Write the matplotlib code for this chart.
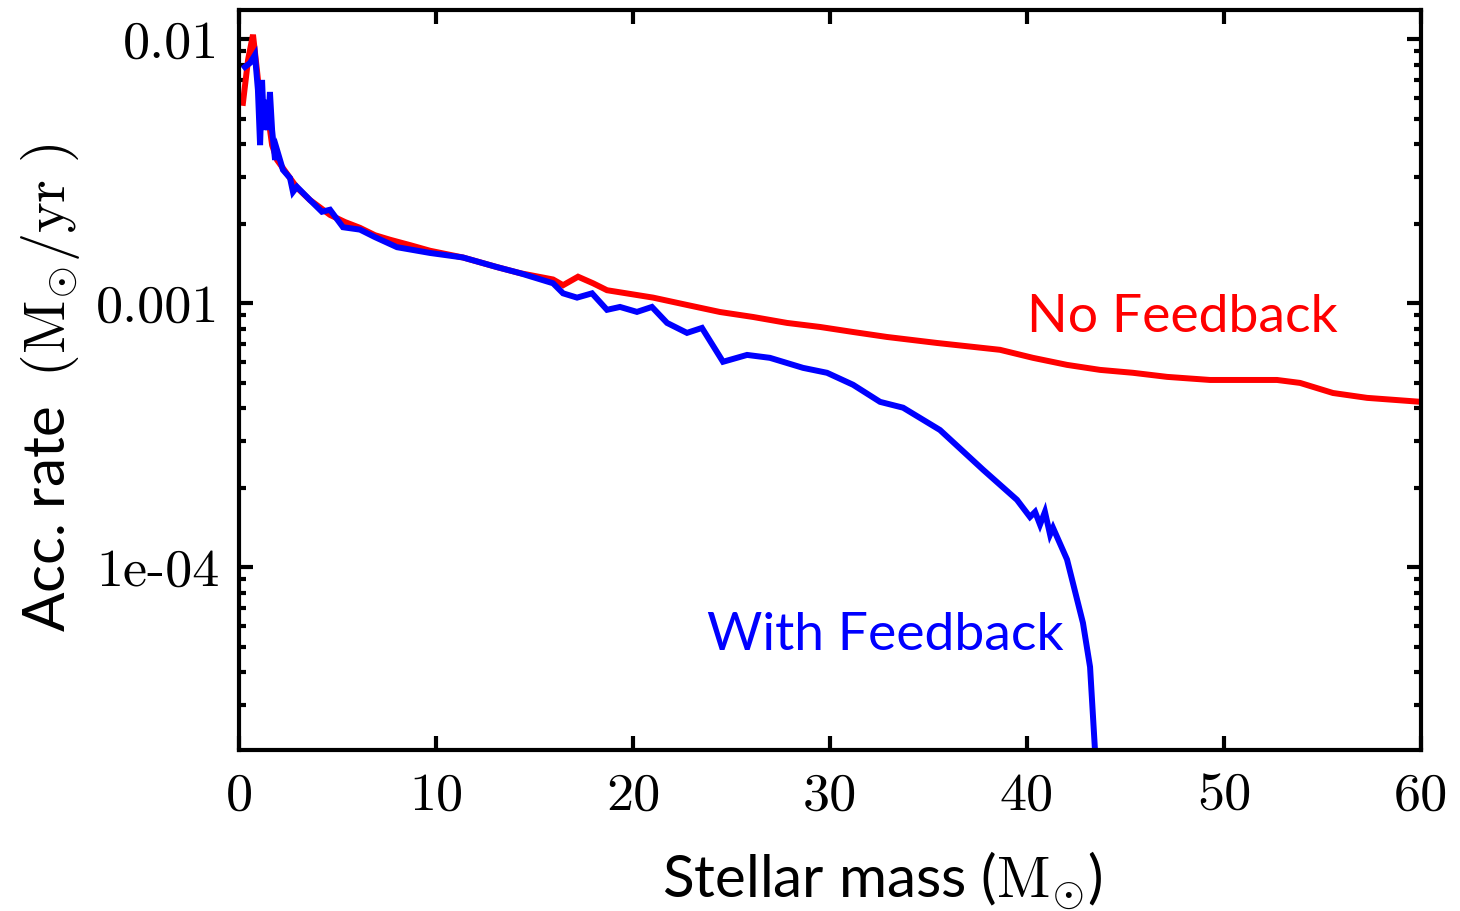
import numpy as np
import matplotlib.pyplot as plt
from matplotlib.ticker import FixedLocator, FixedFormatter, LogLocator, NullFormatter, NullLocator

plt.rcParams['mathtext.fontset'] = 'cm'

# No Feedback (red)
mass_nf = [0.20, 0.46, 0.71, 0.91, 1.07, 1.22, 1.47, 1.68, 1.93, 2.59, 2.94, 3.60, 3.96,
           4.62, 5.38, 6.14, 6.90, 7.66, 8.68, 9.70, 11.37, 13.10, 14.26, 15.94, 16.45,
           17.21, 17.97, 18.68, 21.02, 22.74, 24.42, 26.09, 27.82, 29.49, 31.17, 32.89,
           35.43, 38.63, 40.30, 42.03, 43.71, 45.38, 47.11, 49.29, 52.69, 53.86, 55.53,
           57.26, 60.0]
rate_nf = [0.00574, 0.00835, 0.0104, 0.00765, 0.00589, 0.00494, 0.00516, 0.00397, 0.00349,
           0.00298, 0.00274, 0.00246, 0.00235, 0.00216, 0.00203, 0.00193, 0.00181, 0.00174,
           0.00166, 0.00158, 0.00149, 0.00137, 0.00130, 0.00123, 0.00117, 0.00126, 0.00119,
           0.00112, 0.00105, 0.000985, 0.000926, 0.000887, 0.000842, 0.000813, 0.000778,
           0.000745, 0.000707, 0.000666, 0.000621, 0.000584, 0.000559, 0.000545, 0.000526,
           0.000512, 0.000512, 0.000499, 0.000457, 0.000438, 0.000423]

# With Feedback (blue)
mass_wf = [0.30, 0.56, 0.81, 0.96, 1.07, 1.17, 1.27, 1.37, 1.47, 1.57, 1.68, 1.83, 1.93,
           2.23, 2.59, 2.74, 2.94, 3.60, 4.21, 4.62, 5.28, 6.14, 6.90, 8.02, 9.70, 11.37,
           13.10, 14.26, 15.94, 16.45, 17.16, 17.92, 18.68, 19.34, 20.20, 20.96, 21.73,
           22.74, 23.50, 24.57, 25.79, 26.95, 28.63, 29.85, 31.17, 32.54, 33.71, 35.58,
           37.77, 39.49, 40.15, 40.41, 40.66, 40.91, 41.17, 41.32, 42.03, 42.84, 43.20,
           43.45, 43.55]
rate_wf = [0.00785, 0.00813, 0.00872, 0.00643, 0.00397, 0.00701, 0.00453, 0.00589, 0.00453,
           0.00631, 0.00453, 0.00349, 0.00381, 0.00320, 0.00298, 0.00264, 0.00276, 0.00246,
           0.00222, 0.00226, 0.00194, 0.00190, 0.00178, 0.00163, 0.00155, 0.00149, 0.00137,
           0.00130, 0.00119, 0.00109, 0.00105, 0.00109, 0.000944, 0.000968, 0.000927,
           0.000968, 0.000842, 0.000772, 0.000806, 0.000600, 0.000637, 0.000621, 0.000569,
           0.000545, 0.000491, 0.000423, 0.000402, 0.000331, 0.000234, 0.000180, 0.000155,
           0.000162, 0.000145, 0.000162, 0.000133, 0.000141, 0.000107, 0.0000615, 0.0000419,
           0.0000203, 0.0000150]

xticks = [0, 10, 20, 30, 40, 50, 60]
yticks = [1e-4, 1e-3, 1e-2]
ytick_labels = ['1e-04', '0.001', '0.01']

fig = plt.figure(figsize=(14.6, 9.11), dpi=100)
ax = fig.add_axes([0.1637, 0.1767, 0.8096, 0.8123])

ax.plot(mass_nf, rate_nf, color='#ff0000', lw=4.3, solid_joinstyle='miter')
ax.plot(mass_wf, rate_wf, color='#0000ff', lw=4.3, solid_joinstyle='miter')

ax.set_yscale('log')
ax.set_xlim(0, 60)
ax.set_ylim(2.03e-5, 0.0129)

ax.xaxis.set_major_locator(FixedLocator(xticks))
ax.xaxis.set_major_formatter(FixedFormatter([str(t) for t in xticks]))
ax.xaxis.set_minor_locator(NullLocator())
ax.yaxis.set_major_locator(FixedLocator(yticks))
ax.yaxis.set_major_formatter(FixedFormatter(ytick_labels))
ax.yaxis.set_minor_locator(LogLocator(base=10, subs=np.arange(2, 10)))
ax.yaxis.set_minor_formatter(NullFormatter())

for s in ax.spines.values():
    s.set_linewidth(3)
ax.tick_params(which='both', direction='in', top=True, right=True, width=3)
ax.tick_params(which='major', length=10)
ax.tick_params(which='minor', length=5)
ax.tick_params(axis='y', pad=14)
ax.tick_params(axis='x', pad=16)
for lab in ax.get_xticklabels() + ax.get_yticklabels():
    lab.set_fontfamily('cmr10')
    lab.set_fontsize(39)

ax.text(40.0, 7.78e-4, 'No Feedback', color='#ff0000', fontsize=38.5, family='Lato',
        ha='left', va='baseline')
ax.text(23.76, 4.86e-5, 'With Feedback', color='#0000ff', fontsize=38.5, family='Lato',
        ha='left', va='baseline')

fig.text(0.604, 0.0154, r'Stellar mass ($\mathrm{M}_{\odot}$)', fontsize=42, family='Lato',
         ha='center', va='baseline')
fig.text(0.0445, 0.574, r'Acc. rate  $(\mathrm{M}_{\odot}/\mathrm{yr}\ )$', fontsize=42,
         family='Lato', rotation=90, rotation_mode='anchor', ha='center', va='baseline')

fig.savefig('out.png', dpi=100)
